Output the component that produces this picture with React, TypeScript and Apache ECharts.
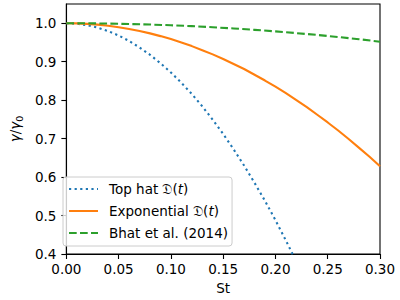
import React, { useEffect, useRef } from 'react';
import * as echarts from 'echarts';

const seriesNames = ['Top hat 𝔇(t)', 'Exponential 𝔇(t)', 'Bhat et al. (2014)'];
const seriesColors = ['#1f77b4', '#ff7f0e', '#2ca02c'];

const topHatSt = [0, 0.01, 0.02, 0.03, 0.04, 0.05, 0.06, 0.07, 0.08, 0.09, 0.1, 0.11, 0.12, 0.13, 0.14, 0.15, 0.16, 0.17, 0.18, 0.19, 0.2, 0.21, 0.22];
const topHatGamma = [1.0, 0.9987, 0.9949, 0.9885, 0.9795, 0.968, 0.954, 0.937, 0.918, 0.896, 0.872, 0.845, 0.816, 0.784, 0.749, 0.712, 0.672, 0.63, 0.585, 0.538, 0.488, 0.435, 0.38];

const expSt = [0, 0.01, 0.02, 0.03, 0.04, 0.05, 0.06, 0.07, 0.08, 0.09, 0.1, 0.11, 0.12, 0.13, 0.14, 0.15, 0.16, 0.17, 0.18, 0.19, 0.2, 0.21, 0.22, 0.23, 0.24, 0.25, 0.26, 0.27, 0.28, 0.29, 0.3];
const expGamma = [1.0, 0.9996, 0.9983, 0.9963, 0.9934, 0.9897, 0.9851, 0.9798, 0.9736, 0.9665, 0.9587, 0.95, 0.9405, 0.93, 0.919, 0.907, 0.894, 0.881, 0.866, 0.851, 0.835, 0.818, 0.8, 0.782, 0.762, 0.742, 0.721, 0.699, 0.676, 0.653, 0.628];

const bhatSt = [0, 0.02, 0.04, 0.06, 0.08, 0.1, 0.12, 0.14, 0.16, 0.18, 0.2, 0.22, 0.24, 0.26, 0.28, 0.3];
const bhatGamma = [1.0, 0.9998, 0.9992, 0.998, 0.9966, 0.9947, 0.9924, 0.9896, 0.9864, 0.9828, 0.9788, 0.9743, 0.9695, 0.9642, 0.9584, 0.952];

const xTicks = [0, 0.05, 0.1, 0.15, 0.2, 0.25, 0.3];
const yTicks = [0.4, 0.5, 0.6, 0.7, 0.8, 0.9, 1.0];

const FONT = 'DejaVu Sans';
const FS = 13.5;

function pairs(xs: number[], ys: number[]) {
  return xs.map((x, i) => [x, ys[i]]);
}

export default function App() {
  const ref = useRef<HTMLDivElement>(null);
  useEffect(() => {
    if (!ref.current) return;
    const chart = echarts.init(ref.current, null, { renderer: 'svg' });
    const lineTypes: any[] = [[2.2, 3.4], 'solid', [7.7, 3.3]];
    const datas = [pairs(topHatSt, topHatGamma), pairs(expSt, expGamma), pairs(bhatSt, bhatGamma)];
    chart.setOption({
      animation: false,
      textStyle: { fontFamily: FONT },
      grid: { left: 57, right: 20, top: 4, bottom: 46, show: true, borderColor: '#000', borderWidth: 1.1, backgroundColor: 'transparent' },
      xAxis: {
        type: 'value',
        min: 0,
        max: 0.3,
        name: 'St',
        nameLocation: 'middle',
        nameGap: 27,
        nameTextStyle: { fontSize: FS, color: '#000', fontFamily: FONT },
        axisLine: { show: true, lineStyle: { color: '#000', width: 1.1 } },
        axisTick: { show: true, length: 5, lineStyle: { color: '#000', width: 1.1 }, customValues: xTicks },
        axisLabel: { color: '#000', fontSize: FS, fontFamily: FONT, margin: 8, customValues: xTicks, formatter: (v: number) => v.toFixed(2) },
        splitLine: { show: false },
      },
      yAxis: {
        type: 'value',
        min: 0.4,
        max: 1.05,
        name: '{i|γ}/{i|γ}{s|0}',
        nameLocation: 'middle',
        nameGap: 38,
        nameTextStyle: {
          color: '#000',
          fontSize: FS,
          fontFamily: FONT,
          rich: {
            i: { fontStyle: 'italic', fontSize: FS, fontFamily: FONT, color: '#000', lineHeight: 18, verticalAlign: 'middle' },
            s: { fontSize: 9.5, fontFamily: FONT, color: '#000', lineHeight: 18, verticalAlign: 'bottom' },
          },
        },
        axisLine: { show: true, lineStyle: { color: '#000', width: 1.1 } },
        axisTick: { show: true, length: 5, lineStyle: { color: '#000', width: 1.1 }, customValues: yTicks },
        axisLabel: { color: '#000', fontSize: FS, fontFamily: FONT, margin: 10, customValues: yTicks, formatter: (v: number) => v.toFixed(1) },
        splitLine: { show: false },
      },
      legend: {
        orient: 'vertical',
        left: 63,
        top: 177,
        padding: [5, 4, 6, 5],
        itemWidth: 29,
        itemHeight: 14,
        itemGap: 8,
        backgroundColor: 'rgba(255,255,255,0.8)',
        borderColor: '#cccccc',
        borderWidth: 1,
        borderRadius: 3,
        data: seriesNames,
        itemStyle: { opacity: 0 },
        formatter: (name: string) => name.replace('(t)', '({i|t})'),
        textStyle: {
          fontSize: FS,
          fontFamily: FONT,
          color: '#000',
          padding: [0, 0, 0, 6],
          rich: {
            i: { fontStyle: 'italic', fontSize: FS, fontFamily: FONT, color: '#000' },
          },
        },
      },
      series: seriesNames.map((name, i) => ({
        name,
        type: 'line',
        data: datas[i],
        showSymbol: false,
        symbol: 'none',
        smooth: false,
        clip: true,
        color: seriesColors[i],
        lineStyle: { color: seriesColors[i], width: 2.1, type: lineTypes[i], cap: 'butt' },
      })),
    });
    return () => chart.dispose();
  }, []);
  return <div ref={ref} style={{ width: 400, height: 300, position: 'absolute', left: 0, top: 0 }} />;
}
